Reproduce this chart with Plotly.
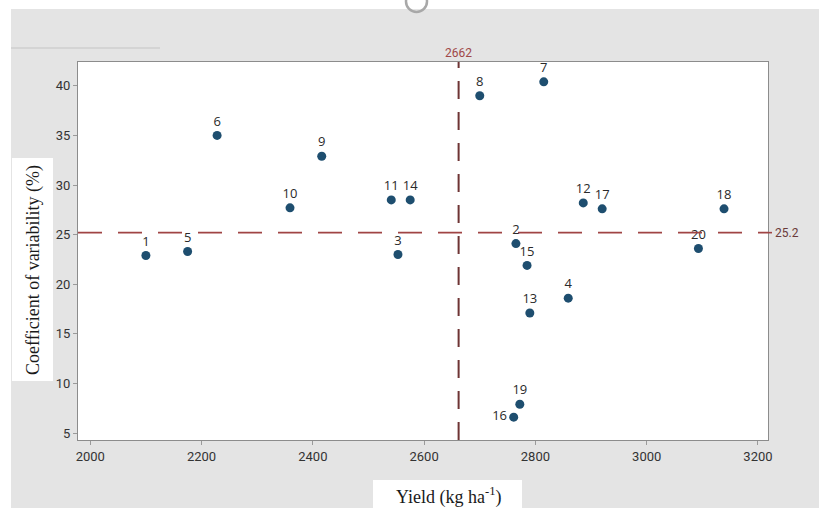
import plotly.graph_objects as go

# ---- data ----
genotypes = [str(i) for i in range(1, 21)]
yield_kg = [2100, 2765, 2553, 2859, 2175, 2228, 2815, 2700, 2416, 2359,
            2541, 2886, 2790, 2575, 2785, 2761, 2920, 3139, 2772, 3093]
cv_pct = [22.9, 24.1, 23.0, 18.6, 23.3, 35.0, 40.4, 39.0, 32.9, 27.7,
          28.5, 28.2, 17.1, 28.5, 21.9, 6.6, 27.6, 27.6, 7.9, 23.6]
label_pos = ["top center"] * 20
label_pos[15] = "middle left"   # genotype 16

mean_yield = 2662
mean_cv = 25.2
x_ticks = [2000, 2200, 2400, 2600, 2800, 3000, 3200]
y_ticks = [5, 10, 15, 20, 25, 30, 35, 40]

W, H = 819, 508
L, R, T, B = 78, 768, 62, 440


def px(x):
    return (x - L) / (R - L)


def py(y):
    return (B - y) / (B - T)


fig = go.Figure()
fig.add_trace(go.Scatter(
    x=yield_kg, y=cv_pct, mode="markers+text",
    text=genotypes, textposition=label_pos,
    textfont=dict(family="Open Sans, DejaVu Sans, sans-serif", size=13, color="#2a2a2a"),
    marker=dict(symbol="circle", size=9, color="#1e4e6f"),
    showlegend=False, cliponaxis=False,
))

shapes = [
    # mean lines
    dict(type="line", xref="x", yref="paper", x0=mean_yield, x1=mean_yield, y0=0, y1=1,
         line=dict(color="#6e3434", width=2, dash="18px,13px")),
    dict(type="line", xref="paper", yref="y", x0=0, x1=1, y0=mean_cv, y1=mean_cv,
         line=dict(color="#a04444", width=1.6, dash="24px,16px")),
    dict(type="line", xref="paper", yref="y", x0=1, x1=px(772), y0=mean_cv, y1=mean_cv,
         line=dict(color="#a04444", width=1.6)),
    # white strips of the page
    dict(type="rect", xref="paper", yref="paper", x0=px(0), x1=px(W), y0=py(0), y1=py(9),
         line=dict(width=0), fillcolor="white", layer="below"),
    dict(type="rect", xref="paper", yref="paper", x0=px(0), x1=px(11), y0=py(0), y1=py(H),
         line=dict(width=0), fillcolor="white", layer="below"),
    dict(type="line", xref="paper", yref="paper", x0=px(11), x1=px(160), y0=py(48), y1=py(48),
         line=dict(color="#c4c4c4", width=1)),
    dict(type="circle", xref="paper", yref="paper", x0=px(406), x1=px(427), y0=py(-9), y1=py(12),
         line=dict(color="#a8a8a8", width=2.5)),
    # white boxes behind axis titles
    dict(type="rect", xref="paper", yref="paper", x0=px(12), x1=px(53), y0=py(381), y1=py(158),
         line=dict(width=0), fillcolor="white"),
    dict(type="rect", xref="paper", yref="paper", x0=px(373), x1=px(522), y0=py(508), y1=py(480),
         line=dict(width=0), fillcolor="white"),
]

annotations = [
    dict(xref="x", yref="paper", x=mean_yield, y=py(53), text=str(mean_yield), showarrow=False,
         xanchor="center", yanchor="middle",
         font=dict(family="Roboto, sans-serif", size=12, color="#a04848")),
    dict(xref="paper", yref="y", x=px(787), y=mean_cv, text=str(mean_cv), showarrow=False,
         xanchor="center", yanchor="middle",
         font=dict(family="Roboto, sans-serif", size=12, color="#6a3a3a")),
    dict(xref="paper", yref="paper", x=px(33), y=py(270), text="Coefficient of variability (%)",
         textangle=-90, showarrow=False, xanchor="center", yanchor="middle",
         font=dict(family="Liberation Serif, Times New Roman, serif", size=18, color="#1a1a1a")),
    dict(xref="paper", yref="paper", x=px(448), y=py(496), text="Yield (kg ha<sup>-1</sup>)",
         showarrow=False, xanchor="center", yanchor="middle",
         font=dict(family="Liberation Serif, Times New Roman, serif", size=18, color="#1a1a1a")),
]

axis_common = dict(
    showgrid=False, zeroline=False, showline=True, mirror=True,
    linecolor="#8c8c8c", linewidth=1.2, ticks="outside", ticklen=4, tickcolor="#9a9a9a",
    tickfont=dict(family="Roboto, sans-serif", size=13, color="#333333"),
)

fig.update_layout(
    width=W, height=H,
    margin=dict(l=L, r=W - R, t=T, b=H - B),
    paper_bgcolor="#e4e4e4", plot_bgcolor="white",
    xaxis=dict(range=[1978, 3218], tickvals=x_ticks, **axis_common),
    yaxis=dict(range=[4.3, 42.4], tickvals=y_ticks, **axis_common),
    shapes=shapes, annotations=annotations,
)

fig.write_html("out.html")
